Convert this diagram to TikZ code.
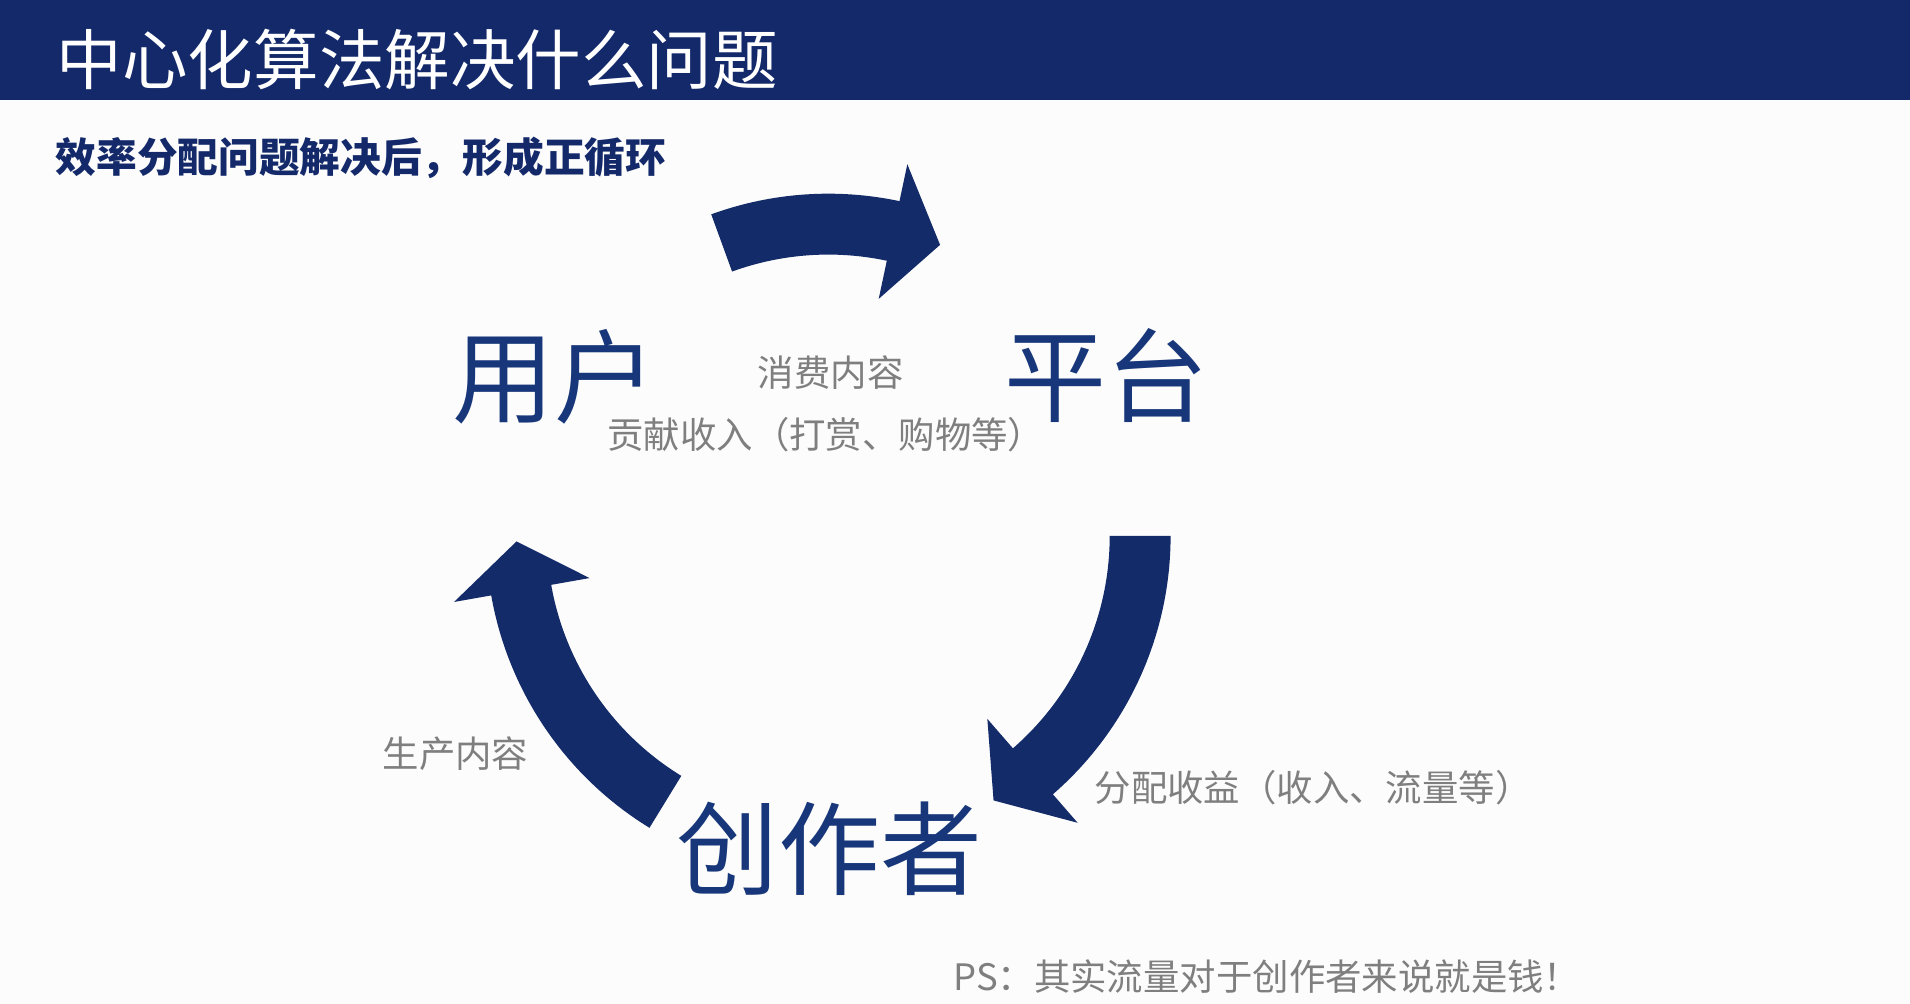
\documentclass[tikz,border=0pt]{standalone}
\usepackage{fontspec}
\setmainfont{Noto Sans CJK SC}
\usetikzlibrary{positioning}

\definecolor{barblue}{HTML}{13296A}
\definecolor{arrowblue}{HTML}{132B68}
\definecolor{labelblue}{HTML}{17377A}
\definecolor{notegray}{HTML}{7F7F7F}

\tikzset{
  bigword/.style={text=labelblue,font=\fontsize{23.8pt}{24pt}\selectfont,inner sep=0pt},
  grayword/.style={text=notegray,font=\fontsize{8.5pt}{9pt}\selectfont,inner sep=0pt},
}

\begin{document}
\begin{tikzpicture}[x=0.01cm,y=-0.01cm,every node/.style={inner sep=0pt}]
    % Page and title bar
    \useasboundingbox (0,0) rectangle (1568,824);
    \fill[black!1] (0,0) rectangle (1568,824);
    \fill[barblue] (0,0) rectangle (1568,82);
    \node (title) at (46,49) [anchor=west,text=white,font=\fontsize{15.3pt}{16pt}\selectfont] {中心化算法解决什么问题};
    \node (subtitle) at (45,130) [anchor=west,text=barblue,font=\fontsize{9.5pt}{10pt}\selectfont\bfseries] {效率分配问题解决后，形成正循环};

    % Cycle arrows: band from \a to \b, head up to \b+9
    \begin{scope}[shift={(680,440)}]
        \foreach \a/\b in {-110/-78, 0/49, 121.5/170} {
            \fill[arrowblue] (\a:281) arc[start angle=\a, end angle=\b, radius=281]
                -- (\b:312) -- ({\b+9}:256) -- (\b:199) -- (\b:231)
                arc[start angle=\b, end angle=\a, radius=231] -- cycle;
        }
    \end{scope}

    % Main roles
    \node (user) at (455,309) [bigword] {用户};
    \node (platform) at (908,308) [bigword] {平台};
    \node (creator) at (681,697) [bigword] {创作者};

    % Flow labels
    \node (consume) at (682,306) [grayword] {消费内容};
    \node (pay) at (678,357) [grayword] {贡献收入（打赏、购物等）};
    \node (produce) at (374,619) [grayword] {生产内容};
    \node (share) at (1078,647) [grayword] {分配收益（收入、流量等）};

    % Note
    \node (note) at (1040,802) [grayword] {PS：其实流量对于创作者来说就是钱！};
\end{tikzpicture}
\end{document}
